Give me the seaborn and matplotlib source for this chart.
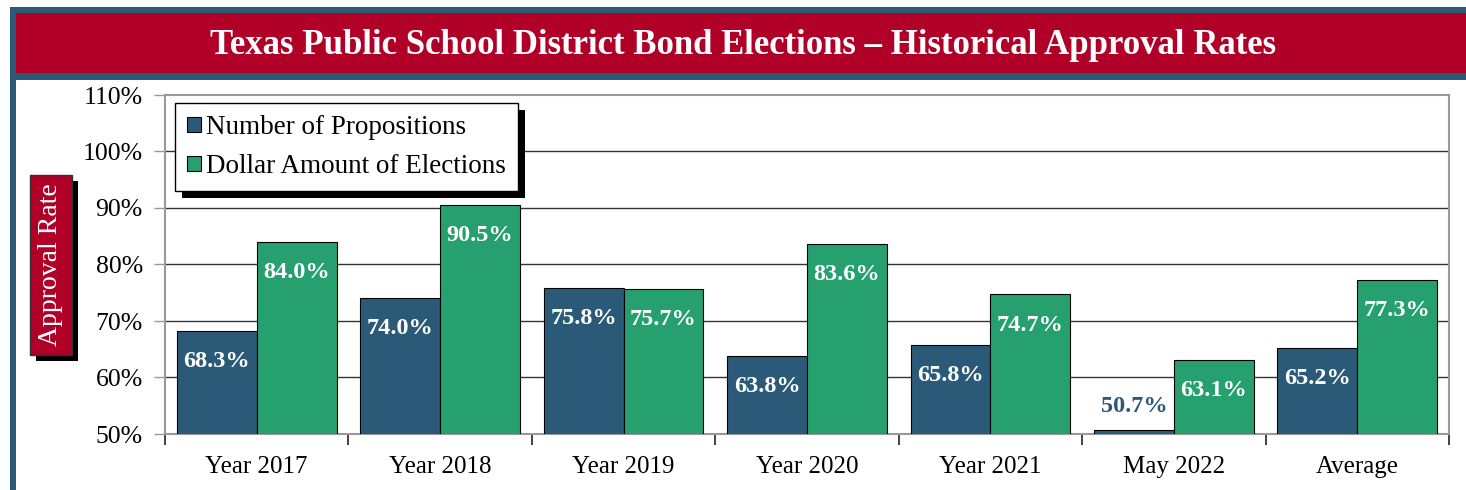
import numpy as np
import pandas as pd
import matplotlib.pyplot as plt
import seaborn as sns
from matplotlib.patches import Rectangle
from matplotlib.transforms import IdentityTransform
from matplotlib.ticker import FuncFormatter, FixedLocator

categories = ['Year 2017', 'Year 2018', 'Year 2019', 'Year 2020', 'Year 2021', 'May 2022', 'Average']
propositions = [68.3, 74.0, 75.8, 63.8, 65.8, 50.7, 65.2]
dollars = [84.0, 90.5, 75.7, 83.6, 74.7, 63.1, 77.3]
series = ['Number of Propositions', 'Dollar Amount of Elections']

azul = '#2B5A78'
verde = '#25A06E'
rojo = '#B00028'

# Tabla larga para seaborn
df = pd.DataFrame({
    'Categoria': categories * 2,
    'Serie': [series[0]] * len(categories) + [series[1]] * len(categories),
    'Valor': propositions + dollars,
})

sns.set_style("white")
plt.rcParams['font.family'] = ['Liberation Serif', 'DejaVu Serif']
plt.rcParams['text.color'] = 'black'
plt.rcParams['xtick.labelcolor'] = 'black'
plt.rcParams['ytick.labelcolor'] = 'black'

fig = plt.figure(figsize=(14.66, 4.9), dpi=100)
ax = fig.add_axes([165 / 1466, 56 / 490, 1284 / 1466, 339 / 490])

# Marco azul y banda roja del titulo
fig.add_artist(Rectangle((10 / 1466, 0), 6 / 1466, 483 / 490, transform=fig.transFigure,
                         facecolor=azul, edgecolor='none', zorder=0))
fig.add_artist(Rectangle((10 / 1466, 410 / 490), 1456 / 1466, 73 / 490, transform=fig.transFigure,
                         facecolor=azul, edgecolor='none', zorder=0))
fig.add_artist(Rectangle((16 / 1466, 417 / 490), 1450 / 1466, 60 / 490, transform=fig.transFigure,
                         facecolor=rojo, edgecolor='none', zorder=0))
fig.text(743 / 1466, 445 / 490,
         'Texas Public School District Bond Elections \u2013 Historical Approval Rates',
         ha='center', va='center', color='white', fontsize=25, fontweight='bold')

# Grafico de barras
sns.barplot(data=df, x='Categoria', y='Valor', hue='Serie', palette=[azul, verde],
            saturation=1, width=0.87, gap=0, edgecolor='black', linewidth=0.8,
            ax=ax, zorder=3)

ax.set_ylim(50, 110)
ax.set_xlim(-0.5, len(categories) - 0.5)
ax.yaxis.set_major_locator(FixedLocator(np.arange(50, 111, 10)))
ax.yaxis.set_major_formatter(FuncFormatter(lambda v, p: f"{v:.0f}%"))
for y in range(60, 110, 10):
    ax.axhline(y, color='#333333', lw=1, zorder=1)

ax.set_xlabel('')
ax.set_ylabel('')
ax.tick_params(axis='y', which='major', direction='out', length=8, width=1,
               color='#999999', labelsize=18.5, pad=8, left=True)
ax.tick_params(axis='x', which='major', length=0, labelsize=18, pad=16)
ax.set_xticks(np.arange(-0.5, len(categories), 1), minor=True)
ax.tick_params(axis='x', which='minor', direction='out', length=8, width=1.2,
               color='#222222', bottom=True)
for s in ax.spines.values():
    s.set_color('#999999')
    s.set_linewidth(1.5)

# Etiquetas de valores
for cont in ax.containers:
    for p in cont.patches:
        h = p.get_height()
        cx = p.get_x() + p.get_width() / 2
        if h - 50 < 5:
            ax.annotate(f"{h:.1f}%", (cx, h), xytext=(0, 17), textcoords='offset points',
                        ha='center', va='center', color=azul, fontsize=17.5,
                        fontweight='bold', zorder=5)
        else:
            ax.annotate(f"{h:.1f}%", (cx, h), xytext=(0, -22), textcoords='offset points',
                        ha='center', va='center', color='white', fontsize=17.5,
                        fontweight='bold', zorder=5)

# Leyenda con sombra negra
leg = ax.legend(loc='upper left', bbox_to_anchor=(0.008, 0.976), fontsize=19.5,
                frameon=True, fancybox=False, edgecolor='black', framealpha=1,
                handlelength=0.5, handleheight=0.5, handletextpad=0.2,
                labelspacing=0.5, borderpad=0.45, borderaxespad=0)
leg.get_frame().set_linewidth(1)
leg.set_zorder(6)

# Etiqueta del eje Y en caja roja
ylab = fig.text(51 / 1466, 225 / 490, 'Approval Rate', rotation=90, ha='center', va='center',
                color='white', fontsize=20, zorder=3,
                bbox=dict(boxstyle='square,pad=0.3', facecolor=rojo, edgecolor='#333333', lw=1))

fig.canvas.draw()
bb = leg.get_window_extent()
ax.add_artist(Rectangle((bb.x0 + 7, bb.y0 - 7), bb.width, bb.height, transform=IdentityTransform(),
                        facecolor='black', edgecolor='none', zorder=5.5))
bb2 = ylab.get_bbox_patch().get_window_extent()
fig.add_artist(Rectangle((bb2.x0 + 6, bb2.y0 - 6), bb2.width, bb2.height,
                         transform=IdentityTransform(), facecolor='black',
                         edgecolor='none', zorder=2))

plt.savefig('out.png', dpi=100)
